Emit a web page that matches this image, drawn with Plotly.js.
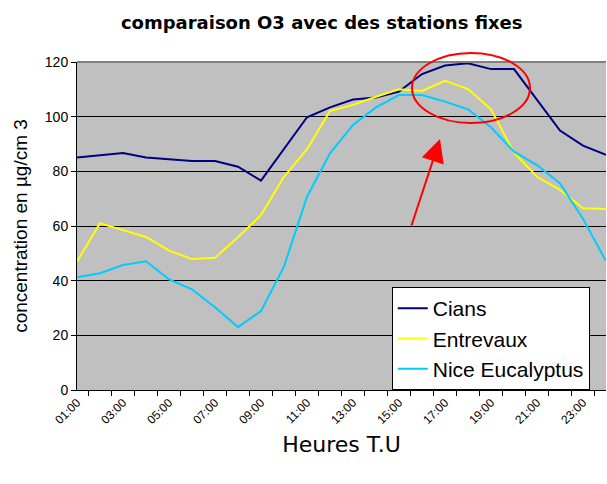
<!DOCTYPE html>
<html>
<head>
<meta charset="utf-8">
<script src="https://cdn.plot.ly/plotly-3.0.1.min.js"></script>
<style>html,body{margin:0;padding:0;background:#fff;}#chart{width:607px;height:484px;}</style>
</head>
<body>
<div id="chart"></div>
<script>
const hours = ["01:00","02:00","03:00","04:00","05:00","06:00","07:00","08:00","09:00","10:00","11:00","12:00",
               "13:00","14:00","15:00","16:00","17:00","18:00","19:00","20:00","21:00","22:00","23:00","24:00"];
const cians = [85.1,85.9,86.7,85.1,84.5,83.8,83.8,81.7,76.6,88.0,99.8,103.4,106.3,107.0,109.2,115.6,118.7,119.5,117.4,117.4,106.2,94.9,89.4,86.0];
const entrevaux = [47.0,61.0,58.5,56.0,51.0,47.9,48.4,55.9,64.0,78.0,88.1,102.1,104.3,107.3,110.0,109.4,113.1,110.1,102.7,86.8,78.0,73.2,66.5,66.2];
const niceEucalyptus = [41.2,42.7,45.7,47.1,40.5,36.8,30.3,23.0,28.9,45.1,70.7,86.6,97.0,103.4,107.9,107.9,105.5,102.7,96.1,87.2,82.3,75.6,62.6,47.2];
const seriesNames = ["Cians","Entrevaux","Nice Eucalyptus"];
const seriesColors = ["#000080","#ffff00","#00ccff"];
const tickText = hours.map((h,i)=> i%2===0 ? h : "");

const data = [cians, entrevaux, niceEucalyptus].map((v,i)=>({
  type:"scatter", mode:"lines", x:hours, y:v, name:seriesNames[i],
  line:{color:seriesColors[i], width:2}
}));

const layout = {
  width:607, height:484,
  margin:{l:77, r:1, t:62, b:94},
  paper_bgcolor:"#ffffff", plot_bgcolor:"#c0c0c0",
  title:{text:"comparaison O3 avec des stations fixes", x:0.53, xanchor:"center", y:0.953, yanchor:"middle",
         font:{family:'"Comic Sans MS","DejaVu Sans",sans-serif', size:18, color:"#000", weight:"bold"}},
  xaxis:{type:"category", tickmode:"array", tickvals:hours, ticktext:tickText, tickson:"boundaries",
         ticks:"outside", ticklen:5, tickcolor:"#000", showline:true, linecolor:"#000", linewidth:1,
         showgrid:false, tickangle:-45, tickfont:{family:"Arial, Liberation Sans", size:12, color:"#000"},
         title:{text:"Heures T.U", standoff:10, font:{family:"DejaVu Sans, Verdana", size:22, color:"#000"}}},
  yaxis:{range:[0,120], dtick:20, ticks:"outside", ticklen:5, tickcolor:"#000", showline:true, linecolor:"#000",
         linewidth:1, showgrid:true, gridcolor:"#000", gridwidth:1, zeroline:false,
         tickfont:{family:"Arial, Liberation Sans", size:14, color:"#000"},
         title:{text:"concentration en µg/cm 3", standoff:12, font:{family:"Liberation Sans, Arial", size:19, color:"#000"}}},
  showlegend:true,
  legend:{x:0.595, y:0, xanchor:"left", yanchor:"bottom", bgcolor:"#ffffff", bordercolor:"#000", borderwidth:1,
          font:{family:"Arial, Liberation Sans", size:21, color:"#000"}, tracegroupgap:0, itemwidth:30},
  shapes:[
    {type:"line", xref:"paper", yref:"paper", x0:0, x1:1, y0:1, y1:1, line:{color:"#808080", width:2}, layer:"above"},
    {type:"circle", xref:"paper", yref:"paper", x0:(412-77)/529, x1:(530-77)/529, y0:(390-123)/328, y1:(390-53)/328,
     line:{color:"#ff0000", width:2}, layer:"above"}
  ],
  annotations:[
    {xref:"paper", yref:"paper", x:(440-77)/529, y:(390-139)/328, ax:(411-77)/529, ay:(390-227)/328,
     axref:"paper", ayref:"paper", showarrow:true, arrowhead:2, arrowsize:2.3, arrowwidth:2, arrowcolor:"#ff0000", text:""}
  ]
};
Plotly.newPlot("chart", data, layout, {displayModeBar:false, staticPlot:true});
</script>
</body>
</html>
